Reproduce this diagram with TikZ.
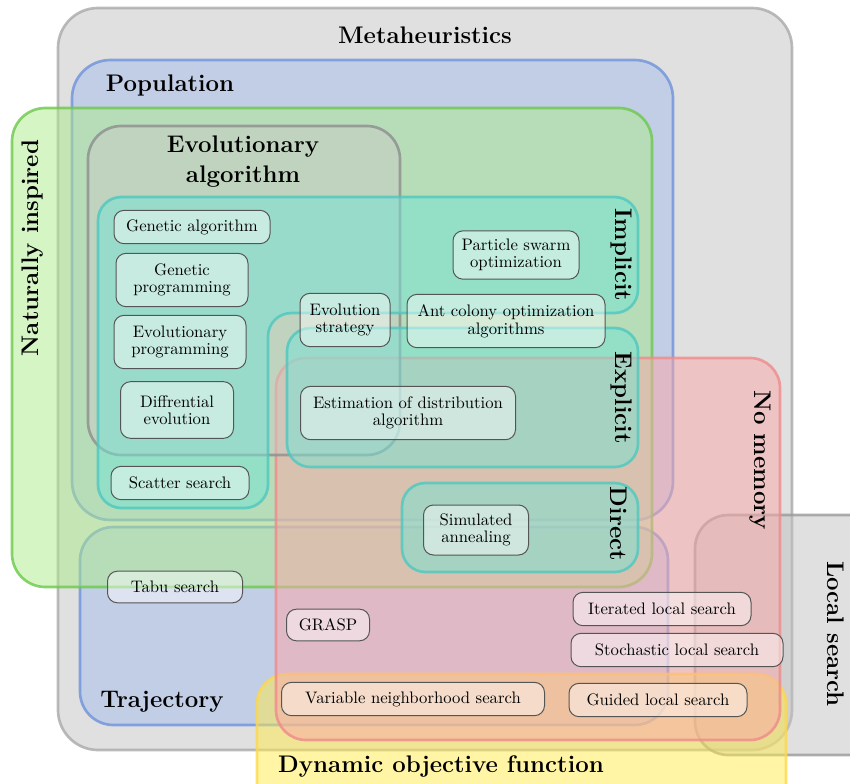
\documentclass[tikz,border=0pt]{standalone}
\usepackage{tikz}
\usetikzlibrary{positioning}
\definecolor{metagray}{HTML}{E0E0E0}
\definecolor{metaline}{HTML}{AAAAAA}
\definecolor{popblue}{HTML}{A6BCEC}
\definecolor{popline}{HTML}{6F93DA}
\definecolor{natgreen}{HTML}{ABEB8B}
\definecolor{natline}{HTML}{6CC94A}
\definecolor{evogray}{HTML}{C8CCC4}
\definecolor{evoline}{HTML}{8E8E8E}
\definecolor{tealfill}{HTML}{74E4D6}
\definecolor{tealline}{HTML}{4CC8C0}
\definecolor{memred}{HTML}{FCA8A8}
\definecolor{memline}{HTML}{F08A8A}
\definecolor{lsgray}{HTML}{C2C2C2}
\definecolor{lsline}{HTML}{999999}
\definecolor{dynyellow}{HTML}{FFEB4B}
\definecolor{dynline}{HTML}{FFD84A}
\definecolor{boxink}{HTML}{555555}

\begin{document}
\begin{tikzpicture}[
  x=0.6pt, y=-0.6pt,
  area/.style={line width=1.6pt, fill opacity=0.5, draw opacity=0.8},
  teal/.style={area, draw=tealline, fill=tealfill, rounded corners=14pt},
  title/.style={font=\Large\bfseries, align=center, inner sep=0pt},
  item/.style={draw=boxink, line width=0.6pt, fill=white, fill opacity=0.45, text opacity=1,
    rounded corners=6pt, align=center, inner xsep=4pt, inner ysep=3pt,
    minimum height=20pt, minimum width={#1*0.6pt}, font=\fontsize{10}{10.5}\selectfont},
  tall/.style={minimum height=32pt},
]
\useasboundingbox (0,0) rectangle (850,783);
\clip (0,0) rectangle (850,783);
% regions
\draw[area, draw=metaline, fill=metagray, fill opacity=1, rounded corners=24pt] (58,8) rectangle (792,750);
\draw[area, draw=popline, fill=popblue, rounded corners=23pt] (72,60) rectangle (673,520);
\draw[area, draw=popline, fill=popblue, rounded corners=20pt] (80,527) rectangle (668,725);
\draw[area, draw=natline, fill=natgreen, rounded corners=20pt] (12,108) rectangle (652,587);
\draw[area, draw=lsline, fill=lsgray, rounded corners=20pt] (695,515) rectangle (885,755);
\draw[area, draw=dynline, fill=dynyellow, rounded corners=18pt] (257,674) rectangle (786,820);
\draw[area, draw=memline, fill=memred, rounded corners=18pt] (276,358) rectangle (780,740);
\draw[area, draw=evoline, fill=evogray, rounded corners=20pt] (88,126) rectangle (400,455);
\draw[teal] (98,197) -- (638,197) -- (638,313) -- (268,313) -- (268,508) -- (98,508) -- cycle;
\draw[teal] (287,328) rectangle (638,467);
\draw[teal] (402,483) rectangle (638,572);

% region labels
\node[title] (lmeta) at (425,35) {Metaheuristics};
\node[title] (lpop) at (170,85) {Population};
\node[title] (levo) at (243,162) {Evolutionary\\algorithm};
\node[title] (ltraj) at (162,702) {Trajectory};
\node[title] (ldyn) at (441,766) {Dynamic objective function};
\node[title, rotate=90] (lnat) at (33,248) {Naturally inspired};
\node[title, rotate=-90] (limp) at (621,255) {Implicit};
\node[title, rotate=-90] (lexp) at (621,398) {Explicit};
\node[title, rotate=-90] (ldir) at (619,524) {Direct};
\node[title, rotate=-90] (lmem) at (760,460) {No memory};
\node[title, rotate=-90] (lls) at (836,634) {Local search};

% algorithms
\node[item=156] (ga) at (192,227) {Genetic algorithm};
\node[item=132, tall] (gp) at (182,280) {Genetic\\programming};
\node[item=132, tall] (ep) at (180,342) {Evolutionary\\programming};
\node[item=113, tall, minimum height=34pt] (de) at (177,410) {Diffrential\\evolution};
\node[item=138] (ss) at (180,483) {Scatter search};
\node[item=90, tall] (es) at (345,320) {Evolution\\strategy};
\node[item=126, tall, minimum height=29pt] (pso) at (516,255) {Particle swarm\\optimization};
\node[item=198, tall] (aco) at (506,321) {Ant colony optimization\\algorithms};
\node[item=215, tall] (eda) at (408,413) {Estimation of distribution\\algorithm};
\node[item=105, tall, minimum height=30pt] (sa) at (476,530) {Simulated\\annealing};
\node[item=135, minimum height=19pt] (tabu) at (175,587) {Tabu search};
\node[item=83, minimum height=19pt] (grasp) at (328,625) {GRASP};
\node[item=178] (ils) at (662,609) {Iterated local search};
\node[item=212] (sls) at (677,650) {Stochastic local search};
\node[item=263] (vns) at (413,699) {Variable neighborhood search};
\node[item=178] (gls) at (658,700) {Guided local search};
\end{tikzpicture}
\end{document}
